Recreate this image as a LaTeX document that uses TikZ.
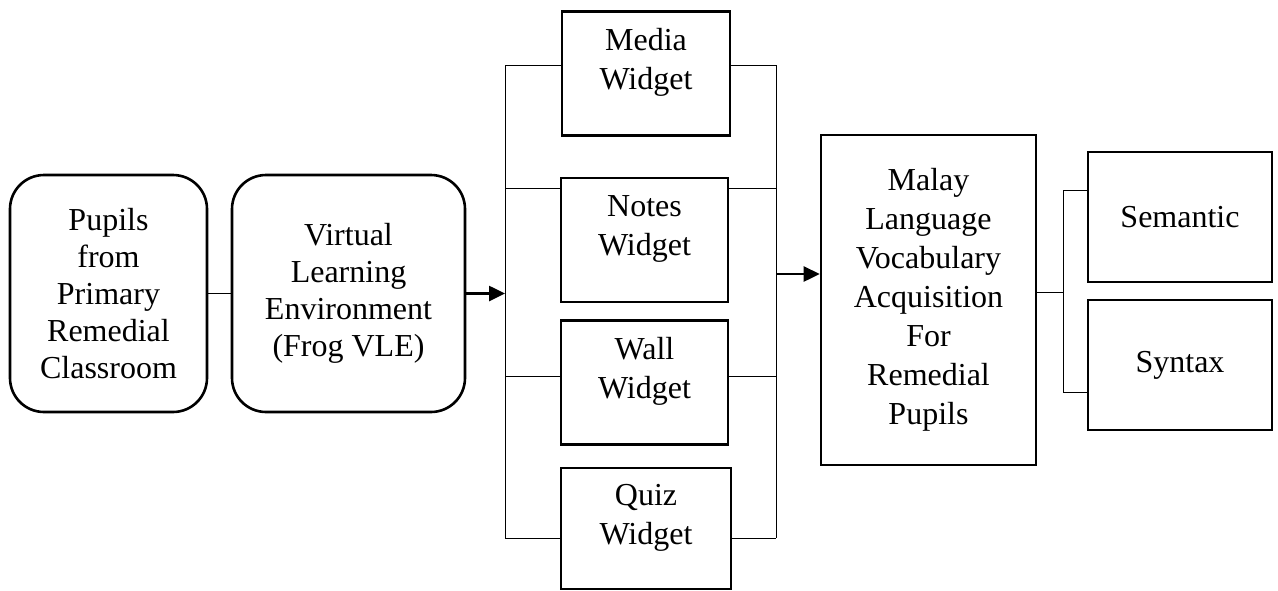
\documentclass[tikz,border=0pt]{standalone}
\usepackage{fontspec}
\setmainfont{Liberation Serif}
\usetikzlibrary{arrows.meta}

\tikzset{
  roundbox/.style={draw, line width=1.3pt, rounded corners=17pt, align=center,
    minimum width=#1, minimum height=118.5pt, inner sep=2pt,
    font=\fontsize{16}{18.5}\selectfont},
  plainbox/.style={draw, line width=1.3pt, align=center, inner sep=2pt},
  widget/.style={plainbox, minimum height=62pt},
  wtext/.style={align=center, inner sep=0pt, yshift=5.5pt},
  link/.style={line width=0.5pt},
  flow/.style={line width=1.3pt, -{Triangle[length=8pt,width=7.5pt]}},
}

\begin{document}
\begin{tikzpicture}[x=0.5pt,y=-0.5pt,font=\fontsize{16}{19.5}\selectfont]
\useasboundingbox (0,0) rectangle (1278,590);
% ---- left: pupils and the learning environment ----
\node[roundbox=98.5pt] (pupils) at (108.5,293.5) {Pupils\\from\\Primary\\Remedial\\Classroom};
\node[roundbox=116.5pt] (vle) at (348.5,293.5) {Virtual\\Learning\\Environment\\(Frog VLE)};
\draw[link] (pupils) -- (vle);

% ---- middle: the four widgets between two buses ----
\node[widget, minimum width=84pt, label={[wtext]center:Media\\Widget}] (media) at (646,73.5) {};
\node[widget, minimum width=83.5pt, label={[wtext]center:Notes\\Widget}] (notes) at (644.5,240) {};
\node[widget, minimum width=83.5pt, label={[wtext]center:Wall\\Widget}] (wall) at (644.5,382.5) {};
\node[widget, minimum width=85pt, minimum height=60.5pt, label={[wtext]center:Quiz\\Widget}] (quiz) at (646,528.5) {};

\coordinate (lb1) at (505,65);
\coordinate (lb2) at (505,188);
\coordinate (lb3) at (505,376);
\coordinate (lb4) at (505,538);
\coordinate (rb1) at (776,65);
\coordinate (rb2) at (776,188);
\coordinate (rb3) at (776,376);
\coordinate (rb4) at (776,538);
\draw[link] (lb1) -- (lb4);
\draw[link] (rb1) -- (rb4);
\foreach \w/\k in {media/1,notes/2,wall/3,quiz/4}{
  \draw[link] (lb\k) -- (lb\k -| \w.west);
  \draw[link] (rb\k -| \w.east) -- (rb\k);
}
\draw[flow] (vle) -- (vle -| lb1);

% ---- right: vocabulary acquisition and its two parts ----
\node[plainbox, minimum width=107.5pt, minimum height=165pt] (malay) at (928.5,300)
  {Malay\\Language\\Vocabulary\\Acquisition\\For\\Remedial\\Pupils};
\coordinate (rba) at (776,274);
\draw[flow] (rba) -- (rba -| malay.west);

\node[plainbox, minimum width=92pt, minimum height=65pt] (semantic) at (1180,217) {Semantic};
\node[plainbox, minimum width=92pt, minimum height=65pt] (syntax) at (1180,365) {Syntax};
\coordinate (bm) at (1063,292);
\coordinate (bt) at (1063,190);
\coordinate (bb) at (1063,392);
\draw[link] (bm -| malay.east) -- (bm);
\draw[link] (bt -| semantic.west) -- (bt) -- (bb) -- (bb -| syntax.west);
\end{tikzpicture}
\end{document}
